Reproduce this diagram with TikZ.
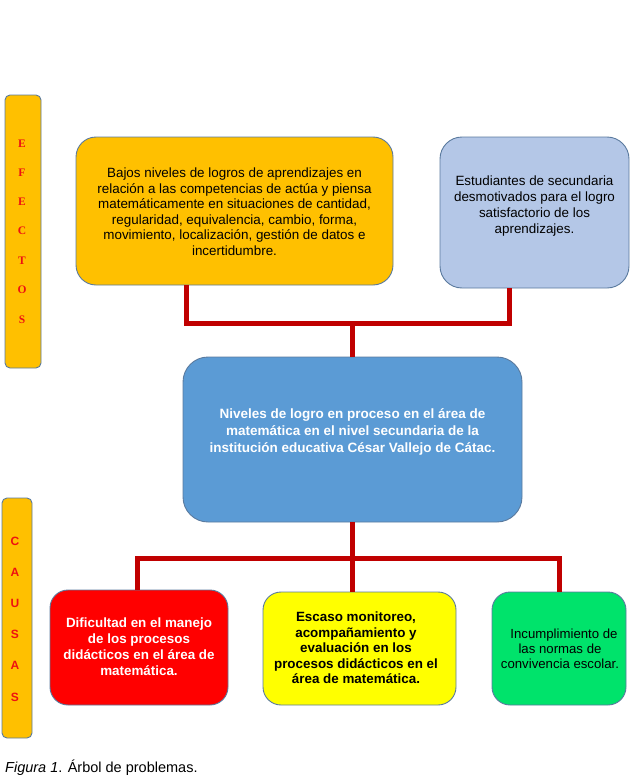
\documentclass[tikz,border=0pt]{standalone}
\usepackage{fontspec}
\setmainfont{Liberation Sans}
\newfontfamily\serifbold{Liberation Serif}
\definecolor{orangebox}{HTML}{FFC000}
\definecolor{bluegray}{HTML}{B4C7E7}
\definecolor{midblue}{HTML}{5B9BD5}
\definecolor{boxred}{HTML}{FF0000}
\definecolor{boxyellow}{HTML}{FFFF00}
\definecolor{boxgreen}{HTML}{00E36B}
\definecolor{edge}{HTML}{5A7A9E}
\definecolor{connred}{HTML}{C00000}
\definecolor{lettred}{HTML}{EE1111}
\tikzset{
  box/.style={draw=edge, line width=0.9pt, inner sep=0pt},
  txt/.style={align=center, inner sep=0pt},
  conn/.style={draw=connred, line width=5pt},
  letter/.style={inner sep=0pt, text=lettred},
}
\begin{document}
\begin{tikzpicture}[x=1pt,y=-1pt]
\useasboundingbox (0,0) rectangle (635,776);
% side bars
\node[box, fill=orangebox, rounded corners=5pt, minimum width=36pt, minimum height=273pt] (ef) at (23,231.5) {};
\foreach \l/\yy [count=\i] in {E/144,F/173,E/202,C/231,T/261,O/290,S/320}
  \node[letter, font=\serifbold\bfseries\fontsize{11.5}{12}\selectfont] (ef\i) at (22,\yy) {\l};
\node[box, fill=orangebox, rounded corners=5pt, minimum width=30pt, minimum height=240pt] (ca) at (17,618) {};
\foreach \l/\yy [count=\i] in {C/541,A/572,U/603,S/634,A/665,S/697}
  \node[letter, font=\bfseries\fontsize{12}{12}\selectfont] (ca\i) at (15,\yy) {\l};
% effects
\node[box, fill=orangebox, rounded corners=20pt, minimum width=317pt, minimum height=148pt] (b1) at (234.5,211) {};
\node[txt, font=\fontsize{13.4}{15.5}\selectfont] (b1t) at (234.5,211.5) {Bajos niveles de logros de aprendizajes en\\relación a las competencias de actúa y piensa\\matemáticamente en situaciones de cantidad,\\regularidad, equivalencia, cambio, forma,\\movimiento, localización, gestión de datos e\\incertidumbre.};
\node[box, fill=bluegray, rounded corners=22pt, minimum width=189pt, minimum height=151pt] (b2) at (534.5,212.5) {};
\node[txt, font=\fontsize{13.4}{15.7}\selectfont] (b2t) at (534.5,206) {Estudiantes de secundaria\\desmotivados para el logro\\satisfactorio de los\\aprendizajes.};
% central problem
\node[box, fill=midblue, rounded corners=25pt, minimum width=339pt, minimum height=165pt] (c) at (352.5,439.5) {};
\node[txt, font=\bfseries\fontsize{13.5}{17}\selectfont, text=white] (ct) at (352.5,432) {Niveles de logro en proceso en el área de\\matemática en el nivel secundaria de la\\institución educativa César Vallejo de Cátac.};
% causes
\node[box, fill=boxred, rounded corners=18pt, minimum width=178pt, minimum height=115pt] (r) at (139,647.5) {};
\node[txt, font=\bfseries\fontsize{13.4}{16}\selectfont, text=white] (rt) at (139,647) {Dificultad en el manejo\\de los procesos\\didácticos en el área de\\matemática.};
\node[box, fill=boxyellow, rounded corners=18pt, minimum width=193pt, minimum height=113pt] (y) at (359.5,648.5) {};
\node[txt, font=\bfseries\fontsize{13.4}{15.6}\selectfont] (yt) at (356,648) {Escaso monitoreo,\\acompañamiento y\\evaluación en los\\procesos didácticos en el\\área de matemática.};
\node[box, fill=boxgreen, rounded corners=18pt, minimum width=134pt, minimum height=113pt] (g) at (559,648.5) {};
\node[txt, font=\fontsize{13.2}{15}\selectfont] (gt) at (560,649) {\hspace*{8pt}Incumplimiento de\\las normas de\\convivencia escolar.};
% connectors
\coordinate (j1) at (352.5,323);
\coordinate (j2) at (352.5,558);
\draw[conn] ([xshift=-48.5pt]b1.south) |- (j1) -| ([xshift=-25.5pt]b2.south);
\draw[conn] (j1) -- (c.north);
\draw[conn] (c.south) -- (j2);
\draw[conn] ([xshift=-2pt]r.north) |- (j2) -| (g.north);
\draw[conn] (j2) -- (j2 |- y.north);
% caption
\node[anchor=base west, inner sep=0pt, font=\fontsize{14.5}{16}\selectfont] (cap) at (5,772) {\textit{Figura 1}. Árbol de problemas.};
\end{tikzpicture}
\end{document}
